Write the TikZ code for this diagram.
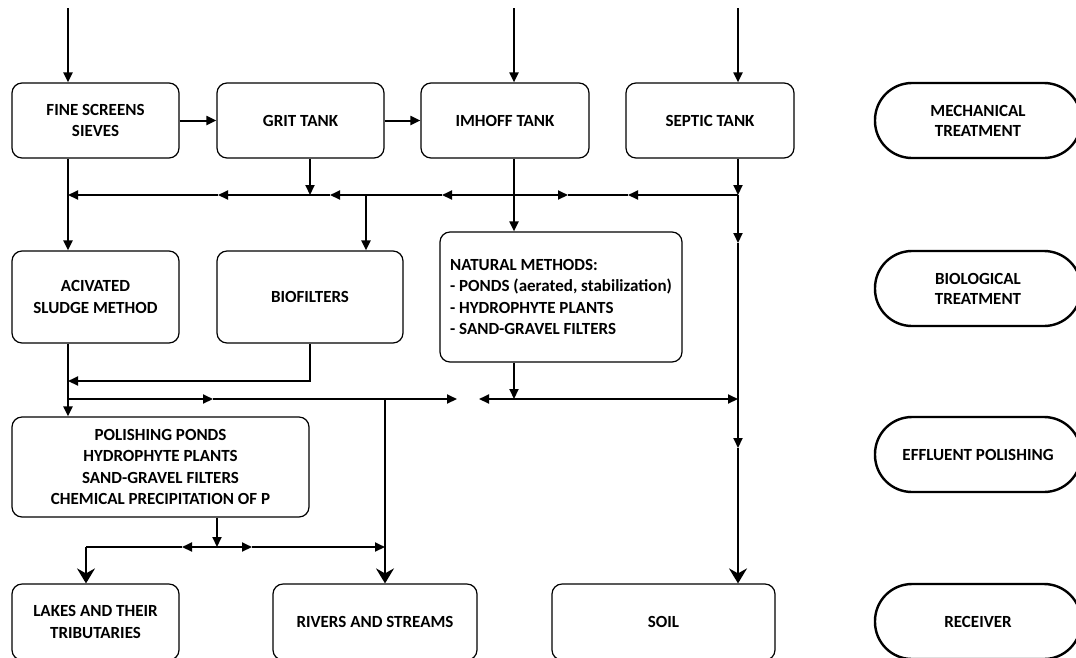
\documentclass[tikz,border=0pt]{standalone}
\usepackage{fontspec}
\setmainfont{Carlito}
\usetikzlibrary{arrows.meta}
\begin{document}
\begin{tikzpicture}[x=1pt,y=-1pt,
  box/.style={draw, line width=1.2pt, rounded corners=10pt, align=center, inner sep=0pt,
    font=\bfseries\fontsize{17}{21.3}\selectfont},
  stad/.style={draw, line width=2.4pt, rounded corners=37pt, align=center, inner sep=0pt,
    minimum width=206pt, minimum height=75pt, font=\bfseries\fontsize{17}{20}\selectfont},
  flow/.style={line width=2pt},
  tip/.style={flow, -{Triangle[length=10pt,width=9pt]}},
  bigtip/.style={flow, -{Stealth[length=15pt,width=18pt,inset=5pt]}}
]
\useasboundingbox (0,0) rectangle (1076,657);
\clip (0,0) rectangle (1076,657);

% boxes
\node[box, minimum width=167pt, minimum height=75pt] (fine) at (95.5,120.5) {FINE SCREENS\\SIEVES};
\node[box, minimum width=167pt, minimum height=75pt] (grit) at (300.5,120.5) {GRIT TANK};
\node[box, minimum width=168pt, minimum height=75pt] (imhoff) at (505,120.5) {IMHOFF TANK};
\node[box, minimum width=168pt, minimum height=75pt] (septic) at (710,120.5) {SEPTIC TANK};
\node[box, minimum width=167pt, minimum height=92pt] (act) at (95.5,297) {ACIVATED\\SLUDGE METHOD};
\node[box, minimum width=186pt, minimum height=92pt] (bio) at (310,297) {BIOFILTERS};
\node[box, minimum width=242pt, minimum height=130pt, align=left] (nat) at (561,297)
  {NATURAL METHODS:\\- PONDS (aerated, stabilization)\\- HYDROPHYTE PLANTS\\- SAND-GRAVEL FILTERS};
\node[box, minimum width=297pt, minimum height=100pt] (pol) at (160.5,467)
  {POLISHING PONDS\\HYDROPHYTE PLANTS\\SAND-GRAVEL FILTERS\\CHEMICAL PRECIPITATION OF P};
\node[box, minimum width=167pt, minimum height=76pt] (lakes) at (95.5,622) {LAKES AND THEIR\\TRIBUTARIES};
\node[box, minimum width=204pt, minimum height=76pt] (rivers) at (375,622) {RIVERS AND STREAMS};
\node[box, minimum width=223pt, minimum height=76pt] (soil) at (663.5,622) {SOIL};

% stage labels
\node[stad] (mech) at (978,120.5) {MECHANICAL\\TREATMENT};
\node[stad] (biol) at (978,288.5) {BIOLOGICAL\\TREATMENT};
\node[stad] (eff) at (978,454.5) {EFFLUENT POLISHING};
\node[stad] (rec) at (978,621.5) {RECEIVER};

% coordinates
\coordinate (inF) at (68,8);
\coordinate (inI) at (514,8);
\coordinate (inS) at (738,8);
\coordinate (xG) at (310,0);
\coordinate (xB) at (366,0);
\coordinate (xR) at (385,0);
\coordinate (xL) at (86,0);
\coordinate (xP) at (217,0);
\coordinate (a1) at (68,195);
\coordinate (a2) at (218,195);
\coordinate (a3) at (310,195);
\coordinate (a4) at (330,195);
\coordinate (a5) at (366,195);
\coordinate (a6) at (442,195);
\coordinate (a7) at (514,195);
\coordinate (a8) at (568,195);
\coordinate (a9) at (628,195);
\coordinate (a10) at (738,195);
\coordinate (s1) at (738,243);
\coordinate (s2) at (738,448);
\coordinate (b1) at (310,381);
\coordinate (b2) at (68,381);
\coordinate (c1) at (68,399);
\coordinate (c2) at (213,399);
\coordinate (c3) at (385,399);
\coordinate (c4) at (457,399);
\coordinate (c5) at (479,399);
\coordinate (c6) at (514,399);
\coordinate (c7) at (738,399);
\coordinate (d1) at (86,547);
\coordinate (d2) at (182,547);
\coordinate (d3) at (217,547);
\coordinate (d4) at (252,547);
\coordinate (d5) at (385,547);

% inlets
\draw[tip] (inF) -- (inF |- fine.north);
\draw[tip] (inI) -- (inI |- imhoff.north);
\draw[tip] (inS) -- (inS |- septic.north);

% mechanical chain
\draw[tip] (fine.east) -- (grit.west);
\draw[tip] (grit.east) -- (imhoff.west);

% collector line 1
\draw[tip] (xG |- grit.south) -- (a3);
\draw[tip] (inS |- septic.south) -- (a10);
\draw[tip] (a10) -- (a9);
\draw[flow] (a9) -- (a8);
\draw[tip] (a7) -- (a8);
\draw[tip] (a7) -- (a6);
\draw[flow] (a6) -- (a5);
\draw[tip] (a5) -- (a4);
\draw[flow] (a4) -- (a3);
\draw[tip] (a3) -- (a2);
\draw[tip] (a2) -- (a1);

% to biological
\draw[tip] (inF |- fine.south) -- (inF |- act.north);
\draw[tip] (a5) -- (xB |- bio.north);
\draw[tip] (inI |- imhoff.south) -- (inI |- nat.north);

% septic line to soil
\draw[tip] (a10) -- (s1);
\draw[tip] (s1) -- (s2);
\draw[bigtip] (s2) -- (inS |- soil.north);

% biological outputs
\draw[tip] (xG |- bio.south) -- (b1) -- (b2);
\draw[tip] (inF |- act.south) -- (inF |- pol.north);
\draw[tip] (inI |- nat.south) -- (c6);

% collector line 2
\draw[tip] (c1) -- (c2);
\draw[tip] (c2) -- (c4);
\draw[tip] (c6) -- (c5);
\draw[tip] (c6) -- (c7);
\draw[bigtip] (c3) -- (xR |- rivers.north);

% polishing outputs
\draw[tip] (xP |- pol.south) -- (d3);
\draw[tip] (d3) -- (d2);
\draw[flow] (d2) -- (d1);
\draw[bigtip] (d1) -- (xL |- lakes.north);
\draw[tip] (d3) -- (d4);
\draw[tip] (d4) -- (d5);
\end{tikzpicture}
\end{document}
